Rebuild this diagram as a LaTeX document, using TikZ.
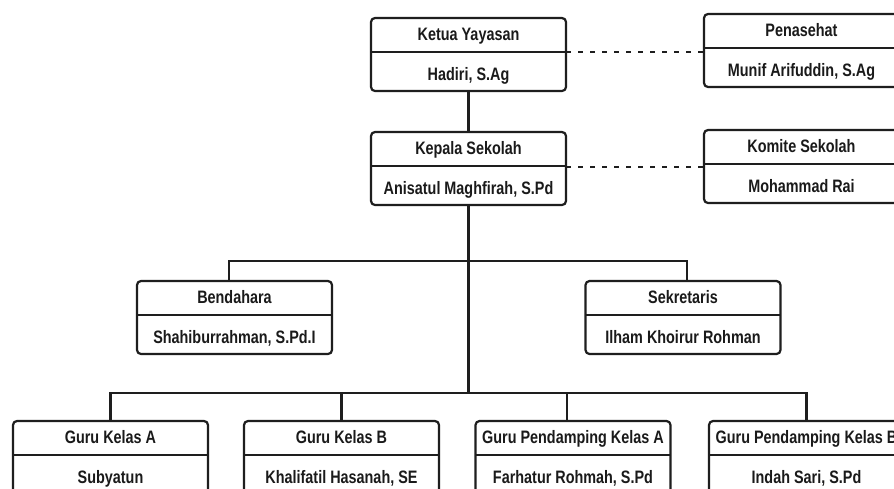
\documentclass[tikz,border=0pt]{standalone}
\usepackage{fontspec}
\setmainfont{Liberation Sans}[FakeStretch=0.8]
\definecolor{ink}{HTML}{1E1E1E}
\definecolor{txt}{HTML}{1A1A1A}
\tikzset{
  ln/.style={draw=ink, line width=2.2pt},
  dotln/.style={draw=ink, line width=2.4pt, dash pattern=on 5pt off 7pt},
  orgbox/.style={draw=ink, line width=2.2pt, rounded corners=4pt, minimum width=195pt,
                 minimum height=73pt, inner sep=0pt, outer sep=0pt},
  lbl/.style={text=txt, font=\bfseries\fontsize{18}{20}\selectfont, inner sep=0pt, anchor=base},
}
% name, cx, top, title, person
\newcommand\OrgBox[5]{%
  \node[orgbox] (#1) at (#2, #3+36.5) {};
  \draw[ln] ([yshift=-34pt]#1.north west) -- ([yshift=-34pt]#1.north east);
  \node[lbl] (#1-t) at (#2, #3+22.5) {#4};
  \node[lbl] (#1-b) at (#2, #3+62) {#5};
}
\begin{document}
\begin{tikzpicture}[x=1pt, y=-1pt]
\useasboundingbox (0,0) rectangle (894,488);
\clip (0,0) rectangle (894,488);
\fill[white] (0,0) rectangle (894,488);

\OrgBox{ketua}{468.5}{18}{Ketua Yayasan}{Hadiri, S.Ag}
\OrgBox{pen}{801.5}{14}{Penasehat}{Munif Arifuddin, S.Ag}
\OrgBox{kep}{468.5}{132}{Kepala Sekolah}{Anisatul Maghfirah, S.Pd}
\OrgBox{kom}{801.5}{130}{Komite Sekolah}{Mohammad Rai}
\OrgBox{bend}{234.5}{281}{Bendahara}{Shahiburrahman, S.Pd.I}
\OrgBox{sek}{683}{281}{Sekretaris}{Ilham Khoirur Rohman}
\OrgBox{ga}{110.5}{421}{Guru Kelas A}{Subyatun}
\OrgBox{gb}{341.5}{421}{Guru Kelas B}{Khalifatil Hasanah, SE}
\OrgBox{gpa}{573}{421}{Guru Pendamping Kelas A}{Farhatur Rohmah, S.Pd}
\OrgBox{gpb}{806.5}{421}{Guru Pendamping Kelas B}{Indah Sari, S.Pd}

\coordinate (j1) at (468.5,261);
\coordinate (j2) at (468.5,393);

\draw[ln] (ketua.south) -- (kep.north);
\draw[ln] (kep.south) -- (j2);
\draw[ln] ([xshift=-5.5pt]bend.north) |- (j1) -| ([xshift=4pt]sek.north);
\draw[ln] (ga.north) |- (j2) -| (gpb.north);
\draw[ln] (gb.north) -- (gb.north |- j2);
\draw[ln] ([xshift=-6pt]gpa.north) -- ([xshift=-6pt]gpa.north |- j2);

\draw[dotln] ([yshift=-34pt]ketua.north east) -- ([yshift=-34pt]ketua.north east -| pen.west);
\draw[dotln] ([yshift=-35pt]kep.north east) -- ([yshift=-35pt]kep.north east -| kom.west);
\end{tikzpicture}
\end{document}
